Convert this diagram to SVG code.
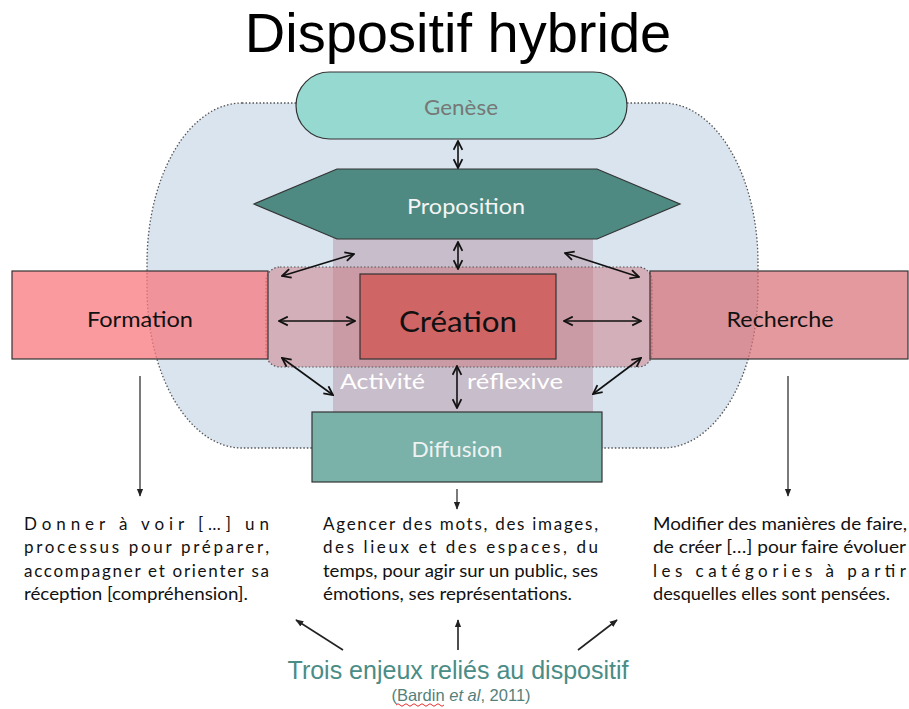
<svg xmlns="http://www.w3.org/2000/svg" width="909" height="709" viewBox="0 0 909 709">
<style>
.t{font-family:Lato,"Open Sans","Liberation Sans",sans-serif}
.para{font-family:Lato,"Open Sans","Liberation Sans",sans-serif;font-size:17px;fill:#111}
.box{stroke:#333;stroke-width:1.2}
.conn{stroke:#111;stroke-width:1.6;fill:none;marker-start:url(#open);marker-end:url(#open)}
.down{stroke:#333;stroke-width:1.3;fill:none;marker-end:url(#solid)}
.up{stroke:#222;stroke-width:1.6;fill:none;marker-end:url(#solid)}
</style>
<defs>
<marker id="open" viewBox="0 0 10 10" refX="9" refY="5" markerWidth="11" markerHeight="11" markerUnits="userSpaceOnUse" orient="auto-start-reverse">
<path d="M1,1 L9,5 L1,9" fill="none" stroke="#111" stroke-width="1.6"/>
</marker>
<marker id="solid" viewBox="0 0 10 10" refX="9" refY="5" markerWidth="8" markerHeight="8" markerUnits="userSpaceOnUse" orient="auto">
<path d="M0,1 L10,5 L0,9 Z" fill="#222"/>
</marker>
</defs>
<rect width="909" height="709" fill="#ffffff"/>
<text x="458" y="52" font-family="'Liberation Sans',Arial,sans-serif" font-size="56" text-anchor="middle" fill="#000">Dispositif hybride</text>
<g id="background">
<rect x="147" y="103" width="611" height="345" rx="95" ry="160" fill="#d9e4ef" stroke="#555" stroke-width="1.3" stroke-dasharray="1.5 2"/>
<rect x="333" y="238" width="260" height="174" fill="#c8bdca"/>
<rect x="266" y="267" width="386" height="100" rx="14" ry="14" fill="rgb(205,110,120)" fill-opacity="0.45" stroke="#555" stroke-width="1.2" stroke-dasharray="1.5 2"/>
</g>
<g id="genese">
<rect class="box" x="296" y="72" width="331" height="67" rx="33.5" fill="#96d9d0"/>
<text class="t" x="461" y="115" font-size="22" text-anchor="middle" fill="#777" textLength="74" lengthAdjust="spacingAndGlyphs">Genèse</text>
</g>
<g id="proposition">
<polygon class="box" points="254,204 337,169 597,169 680,204 597,239 337,239" fill="#4e8a82" stroke="#2a4a46"/>
<text class="t" x="466" y="214" font-size="22" text-anchor="middle" fill="#f4f4f4" textLength="118" lengthAdjust="spacingAndGlyphs">Proposition</text>
</g>
<g id="formation">
<rect class="box" x="12" y="271" width="256" height="88" fill="rgb(248,120,125)" fill-opacity="0.75"/>
<text class="t" x="140" y="327" font-size="21" text-anchor="middle" fill="#111" textLength="106" lengthAdjust="spacingAndGlyphs">Formation</text>
</g>
<g id="recherche">
<rect class="box" x="650" y="271" width="258" height="88" fill="rgb(215,110,115)" fill-opacity="0.7"/>
<text class="t" x="780" y="327" font-size="21" text-anchor="middle" fill="#111" textLength="107" lengthAdjust="spacingAndGlyphs">Recherche</text>
</g>
<g id="creation">
<rect class="box" x="360" y="274" width="196" height="85" fill="#d06565"/>
<text class="t" x="458" y="332" font-size="29" text-anchor="middle" fill="#111" textLength="118" lengthAdjust="spacingAndGlyphs">Création</text>
</g>
<g id="activite-reflexive">
<text class="t" x="340" y="389" font-size="21" fill="#ffffff" textLength="85" lengthAdjust="spacingAndGlyphs">Activité</text>
<text class="t" x="467" y="389" font-size="21" fill="#ffffff" textLength="96" lengthAdjust="spacingAndGlyphs">réflexive</text>
</g>
<g id="diffusion">
<rect class="box" x="312" y="412" width="290" height="70" fill="#7ab1a9"/>
<text class="t" x="457" y="457" font-size="21" text-anchor="middle" fill="#eef3f2" textLength="91" lengthAdjust="spacingAndGlyphs">Diffusion</text>
</g>
<g id="connectors">
<line class="conn" x1="458" y1="141" x2="458" y2="168"/>
<line class="conn" x1="458" y1="242" x2="458" y2="269"/>
<line class="conn" x1="457" y1="366" x2="457" y2="408"/>
<line class="conn" x1="279" y1="321" x2="355" y2="321"/>
<line class="conn" x1="564" y1="321" x2="641" y2="321"/>
<line class="conn" x1="282" y1="276" x2="354" y2="254"/>
<line class="conn" x1="565" y1="253" x2="639" y2="277"/>
<line class="conn" x1="282" y1="358" x2="333" y2="395"/>
<line class="conn" x1="641" y1="358" x2="593" y2="394"/>
<line class="down" x1="140" y1="376" x2="140" y2="496"/>
<line class="down" x1="457" y1="489" x2="457" y2="509"/>
<line class="down" x1="788" y1="376" x2="788" y2="496"/>
<line class="up" x1="343" y1="650" x2="296" y2="620"/>
<line class="up" x1="458" y1="650" x2="458" y2="620"/>
<line class="up" x1="578" y1="650" x2="617" y2="620"/>
</g>
<g id="text-formation">
<text class="para" x="24" y="530" textLength="245" lengthAdjust="spacing">Donner à voir […] un</text>
<text class="para" x="24" y="553" textLength="245" lengthAdjust="spacing">processus pour préparer,</text>
<text class="para" x="24" y="577" textLength="245" lengthAdjust="spacing">accompagner et orienter sa</text>
<text class="para" x="24" y="600" textLength="224" lengthAdjust="spacingAndGlyphs">réception [compréhension].</text>
</g>
<g id="text-diffusion">
<text class="para" x="323" y="530" textLength="275" lengthAdjust="spacing">Agencer des mots, des images,</text>
<text class="para" x="323" y="553" textLength="275" lengthAdjust="spacing">des lieux et des espaces, du</text>
<text class="para" x="323" y="577" textLength="275" lengthAdjust="spacingAndGlyphs">temps, pour agir sur un public, ses</text>
<text class="para" x="323" y="600" textLength="249" lengthAdjust="spacingAndGlyphs">émotions, ses représentations.</text>
</g>
<g id="text-recherche">
<text class="para" x="653" y="530" textLength="254" lengthAdjust="spacingAndGlyphs">Modifier des manières de faire,</text>
<text class="para" x="653" y="553" textLength="253" lengthAdjust="spacingAndGlyphs">de créer […] pour faire évoluer</text>
<text class="para" x="653" y="577" textLength="253" lengthAdjust="spacing">les catégories à partir</text>
<text class="para" x="653" y="600" textLength="237" lengthAdjust="spacingAndGlyphs">desquelles elles sont pensées.</text>
</g>
<g id="caption">
<text x="458" y="679" font-family="'Liberation Sans',Arial,sans-serif" font-size="25" text-anchor="middle" fill="#4a8c86">Trois enjeux reliés au dispositif</text>
<text x="461" y="701" font-family="'Liberation Sans',Arial,sans-serif" font-size="16.5" text-anchor="middle" fill="#557f7b">(Bardin <tspan font-style="italic">et al</tspan>, 2011)</text>
<path d="M396,705 q2,-2.5 4,0 t4,0 t4,0 t4,0 t4,0 t4,0 t4,0 t4,0 t4,0 t4,0 t4,0 t4,0" fill="none" stroke="#e03030" stroke-width="1"/>
</g>
</svg>
